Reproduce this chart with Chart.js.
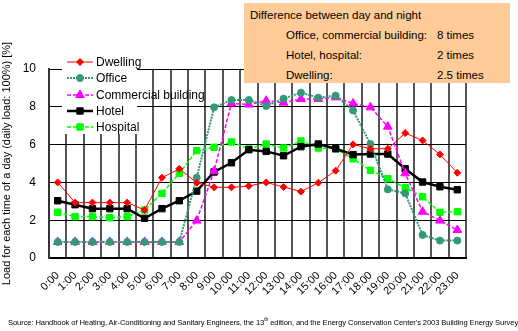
<!DOCTYPE html>
<html><head><meta charset="utf-8">
<script src="https://cdn.jsdelivr.net/npm/chart.js@4"></script>
<style>
html,body{margin:0;padding:0;background:#fff;}
#wrap{position:relative;width:518px;height:331px;font-family:"Liberation Sans",Arial,sans-serif;}
canvas{position:absolute;left:0;top:0;}
#note{position:absolute;left:244px;top:3px;width:266px;height:80px;background:#FFCC99;font-size:11.5px;color:#000;}
#note div{position:absolute;white-space:nowrap;}
#src{position:absolute;left:8px;top:316px;font-size:7.6px;white-space:nowrap;transform-origin:0 0;letter-spacing:-0.1px;}
</style></head><body>
<div id="wrap">
<canvas id="c" width="518" height="331"></canvas>
<div id="note">
<div style="left:6px;top:6px">Difference between day and night</div>
<div style="left:42px;top:26px">Office, commercial building:</div><div style="left:193px;top:26px">8 times</div>
<div style="left:42px;top:46px">Hotel, hospital:</div><div style="left:193px;top:46px">2 times</div>
<div style="left:42px;top:66px">Dwelling:</div><div style="left:193px;top:66px">2.5 times</div>
</div>
<div id="src">Source: Handbook of Heating, Air-Conditioning and Sanitary Engineers, the 13<sup style="font-size:5px">th</sup> edition, and the Energy Conservation Center's 2003 Building Energy Survey</div>
</div>
<script>
const hours = ["0:00","1:00","2:00","3:00","4:00","5:00","6:00","7:00","8:00","9:00","10:00","11:00","12:00","13:00","14:00","15:00","16:00","17:00","18:00","19:00","20:00","21:00","22:00","23:00"];
const dwelling   = [4.0,2.93,2.93,2.93,2.93,2.54,4.25,4.72,3.98,3.74,3.74,3.81,4.0,3.76,3.51,3.98,4.62,6.01,5.78,5.78,6.61,6.22,5.48,4.51];
const office     = [0.85,0.85,0.85,0.85,0.85,0.85,0.85,0.85,4.25,7.97,8.36,8.36,8.04,8.43,8.75,8.48,8.59,7.81,6.03,3.63,3.42,1.22,0.92,0.92];
const commercial = [0.85,0.85,0.85,0.85,0.85,0.85,0.85,0.85,1.98,4.6,8.18,8.12,8.32,8.22,8.41,8.41,8.5,8.18,7.97,6.95,4.48,2.45,1.98,1.48];
const hotel      = [3.03,2.82,2.61,2.61,2.61,2.1,2.61,3.03,3.54,4.55,5.04,5.73,5.64,5.41,5.89,6.03,5.78,5.47,5.5,5.5,4.72,4.02,3.77,3.61];
const hospital   = [2.42,2.19,2.19,2.13,2.19,2.54,3.42,4.48,5.68,5.86,6.14,5.78,6.03,5.82,6.19,5.82,5.78,5.25,4.64,4.2,3.72,3.24,2.42,2.45];
const yTicks = [0,2,4,6,8,10];

const FONT = "'Liberation Sans', Arial, sans-serif";

const legendPlugin = {
  id:'customLegend',
  afterDatasetsDraw(chart){
    const ctx = chart.ctx;
    ctx.save();
    ctx.fillStyle = '#fff';
    ctx.fillRect(62,54,75,80);
    const ys = [62,78,95,111,127];
    chart.data.datasets.forEach((ds,i)=>{
      const y = ys[i];
      ctx.strokeStyle = ds.borderColor;
      ctx.lineWidth = ds.borderWidth;
      ctx.setLineDash(ds.borderDash || []);
      ctx.beginPath(); ctx.moveTo(67,y); ctx.lineTo(93,y); ctx.stroke();
      ctx.setLineDash([]);
      ctx.fillStyle = ds.pointBackgroundColor;
      ctx.strokeStyle = ds.pointBorderColor;
      ctx.lineWidth = 1;
      Chart.helpers.drawPoint(ctx,{pointStyle:ds.pointStyle,radius:ds.pointRadius,rotation:0,borderWidth:1},80,y);
      ctx.fillStyle = '#000';
      ctx.font = "12px " + FONT;
      ctx.textBaseline = 'middle';
      ctx.fillText(ds.label,96,y+1);
    });
    ctx.restore();
  }
};

function ds(label,data,color,width,dash,style,radius,ptColor){
  return {label,data,borderColor:color,borderWidth:width,borderDash:dash,pointStyle:style,pointRadius:radius,
    pointBackgroundColor:ptColor||color,pointBorderColor:ptColor||color,pointBorderWidth:1,tension:0,fill:false};
}

new Chart(document.getElementById('c'),{
  type:'line',
  data:{labels:hours,datasets:[
    ds('Dwelling',dwelling,'#FF0000',1,[], 'rectRot',3.5),
    ds('Office',office,'#339977',2,[2,1],'circle',3.5),
    ds('Commercial building',commercial,'#FF00FF',1.5,[4,2],'triangle',5),
    ds('Hotel',hotel,'#000000',2.5,[],'rect',4.5),
    ds('Hospital',hospital,'#00FF00',1.5,[4,2],'rect',4.5)
  ]},
  options:{
    responsive:false,animation:false,
    layout:{padding:{left:0,right:52,top:69,bottom:18}},
    plugins:{legend:{display:false},tooltip:{enabled:false}},
    scales:{
      x:{offset:true,
        grid:{offset:true,color:'#555',lineWidth:2,drawTicks:false},
        border:{color:'#000',width:2},
        ticks:{maxRotation:45,minRotation:45,autoSkip:false,padding:11,color:'#000',font:{family:FONT,size:11}},
        afterFit(s){s.height=55;}
      },
      y:{min:0,max:10,
        afterBuildTicks(s){s.ticks = yTicks.map(v=>({value:v}));},
        grid:{color:'#000',lineWidth:1,drawTicks:false},
        border:{color:'#333',width:2},
        ticks:{padding:13,color:'#000',font:{family:FONT,size:12}},
        title:{display:true,text:'Load for each time of a day (daily load: 100%) [%]',color:'#000',font:{family:FONT,size:11},padding:0},
        afterFit(s){s.width=49;}
      }
    }
  },
  plugins:[legendPlugin]
});
</script>
</body></html>
